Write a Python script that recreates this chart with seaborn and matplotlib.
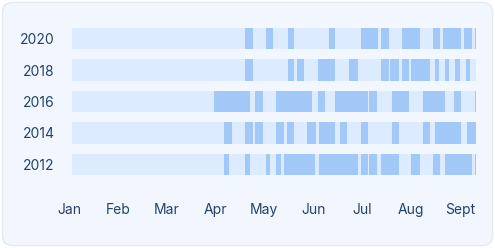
import matplotlib
matplotlib.use("Agg")
import matplotlib.pyplot as plt
from matplotlib.patches import FancyBboxPatch
import seaborn as sns
import pandas as pd

# ---- data ----
years = ["2020", "2018", "2016", "2014", "2012"]
season_days = [273, 273, 273, 273, 273]          # Jan 1 .. Sept 30
month_labels = ["Jan", "Feb", "Mar", "Apr", "May", "Jun", "Jul", "Aug", "Sept"]
month_pos = [-2, 31, 64, 97, 130, 163, 196, 229, 262]

# (start_day, end_day) periods per year
periods_2020 = [(117, 122), (131, 136), (146, 150), (174, 178), (195, 207), (209, 214),
                (223, 235), (244, 249), (251, 263), (265, 270), (272, 273)]
periods_2018 = [(117, 122), (146, 150), (152, 157), (166, 178), (187, 193), (209, 214),
                (215, 221), (223, 228), (229, 242), (245, 248), (252, 255), (259, 262),
                (266, 269)]
periods_2016 = [(96, 120), (124, 129), (138, 162), (166, 171), (178, 200), (201, 206),
                (216, 228), (237, 252), (258, 263), (272, 273)]
periods_2014 = [(103, 108), (117, 122), (124, 129), (138, 143), (145, 150), (159, 165),
                (167, 178), (181, 186), (195, 200), (216, 221), (237, 242), (245, 263),
                (267, 273)]
periods_2012 = [(103, 106), (117, 120), (131, 134), (138, 141), (143, 164), (167, 193),
                (195, 200), (201, 206), (209, 221), (229, 235), (244, 249), (252, 270),
                (272, 273)]
periods = {"2020": periods_2020, "2018": periods_2018, "2016": periods_2016,
           "2014": periods_2014, "2012": periods_2012}

# ---- style ----
sns.set_theme(style="white")
plt.rcParams["font.family"] = ["Inter", "DejaVu Sans"]

BG_CARD = "#F1F6FF"
ROW_BG = "#DCEBFD"
SEG = "#A2C8F8"
TXT = "#24426A"

fig = plt.figure(figsize=(4.95, 2.48), dpi=100, facecolor="white")
card = FancyBboxPatch((2.5 / 495, 2.5 / 248), 490 / 495, 243 / 248,
                      boxstyle="round,pad=0,rounding_size=0.02",
                      transform=fig.transFigure, facecolor=BG_CARD,
                      edgecolor="#E2E9F4", linewidth=1.0, mutation_aspect=2.0,
                      zorder=-10)
fig.patches.append(card)

ax = fig.add_axes([69 / 495, (248 - 180.25) / 248, 407 / 495, 157.5 / 248])
ax.set_zorder(5)
ax.set_facecolor("none")

bg = pd.DataFrame({"year": years, "days": season_days})
sns.barplot(data=bg, x="days", y="year", orient="h", color=ROW_BG,
            saturation=1, width=0.67, ax=ax, linewidth=0, order=years)

rows = []
for yi, y in enumerate(years):
    for s, e in periods[y]:
        rows.append((yi, s, e - s))
for yi, s, w in rows:
    ax.barh(yi, w, left=s, height=0.67, color=SEG, linewidth=0)

ax.set_xlim(0, 273)
ax.set_ylim(4.5, -0.5)
ax.set_xticks(month_pos)
ax.set_xticklabels(month_labels)
ax.set_xlabel("")
ax.set_ylabel("")
ax.tick_params(axis="x", length=0, pad=16.5, labelsize=10, colors=TXT)
ax.tick_params(axis="y", length=0, pad=10.5, labelsize=10, colors=TXT)
for sp in ax.spines.values():
    sp.set_visible(False)

fig.savefig("out.png", dpi=100, facecolor="white")
